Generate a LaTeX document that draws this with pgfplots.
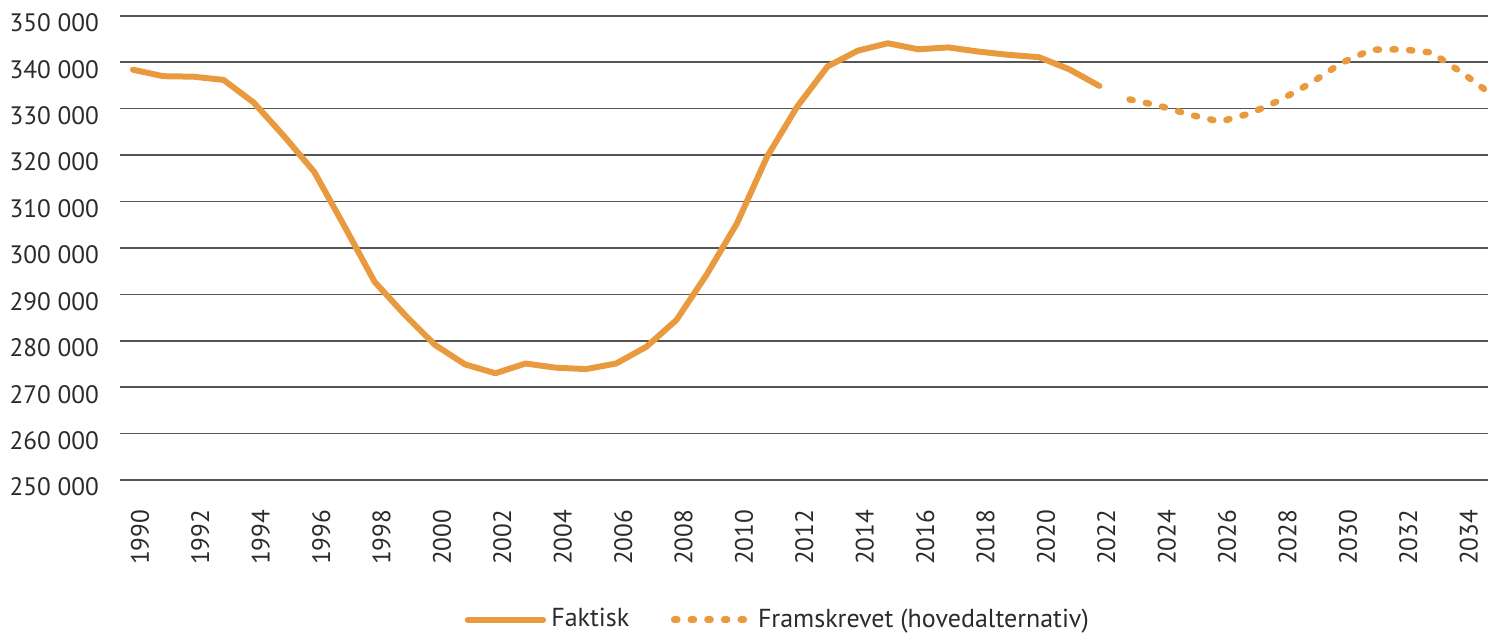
\documentclass[border=0pt]{standalone}
\usepackage{pgfplots}
\pgfplotsset{compat=1.18}
\usepackage{fontspec}
\setmainfont{PT Sans}
\definecolor{org}{HTML}{EA9A3E}
\definecolor{txt}{HTML}{2B2B2B}
\definecolor{gridc}{HTML}{555555}
\begin{document}
\begin{tikzpicture}
\useasboundingbox (-46.15pt,-59.2pt) rectangle (526.1pt,184.6pt);
\begin{axis}[
  at={(0pt,0pt)}, anchor=south west,
  scale only axis, width=526.1pt, height=178.5pt,
  xmin=1989.57, xmax=2034.87, ymin=250000, ymax=350000,
  axis line style={draw=none},
  major tick length=0pt,
  scaled y ticks=false, scaled x ticks=false,
  ymajorgrids, grid style={gridc, line width=0.6pt},
  xtick={1990,1992,...,2034},
  xticklabels={1990,1992,1994,1996,1998,2000,2002,2004,2006,2008,2010,2012,2014,2016,2018,2020,2022,2024,2026,2028,2030,2032,2034},
  ytick={250000,260000,...,350000},
  yticklabels={250 000,260 000,270 000,280 000,290 000,300 000,310 000,320 000,330 000,340 000,350 000},
  tick label style={font=\fontsize{9.7}{12}\selectfont, text=txt},
  yticklabel style={xshift=-4.6pt, yshift=-2.7pt},
  xticklabel style={xshift=2.7pt, yshift=-8pt, rotate=90, anchor=east},
  legend style={at={(0.482,-0.301)}, anchor=center, draw=none, legend columns=2,
    font=\fontsize{10}{12}\selectfont, text=txt,
    /tikz/every even column/.append style={column sep=14pt}},
  legend image code/.code={\draw[#1] (0pt,0pt) -- (29pt,0pt);},
]
\addplot[org, line width=2.3pt, line cap=round, line join=round] coordinates {
(1990,338400) (1991,337000) (1992,336900) (1993,336200) (1994,331300)
(1995,324100) (1996,316400) (1997,304700) (1998,292700) (1999,285600)
(2000,279100) (2001,274900) (2002,273000) (2003,275100) (2004,274200)
(2005,273900) (2006,275100) (2007,278700) (2008,284500) (2009,294300)
(2010,305300) (2011,319700) (2012,330500) (2013,339100) (2014,342500)
(2015,344100) (2016,342800) (2017,343200) (2018,342300) (2019,341600)
(2020,341100) (2021,338500) (2022,334900)
};
\addlegendentry{Faktisk}
\addplot[org, line width=2.5pt, line cap=round, dash pattern=on 1.2pt off 5.2pt] coordinates {
(2023,332000) (2024,330600) (2025,328700) (2026,327200) (2027,329000)
(2028,331900) (2029,335500) (2030,339800) (2031,342700) (2032,342800)
(2033,342100) (2034,337800) (2035,333000)
};
\addlegendentry{Framskrevet (hovedalternativ)}
\end{axis}
\end{tikzpicture}
\end{document}
